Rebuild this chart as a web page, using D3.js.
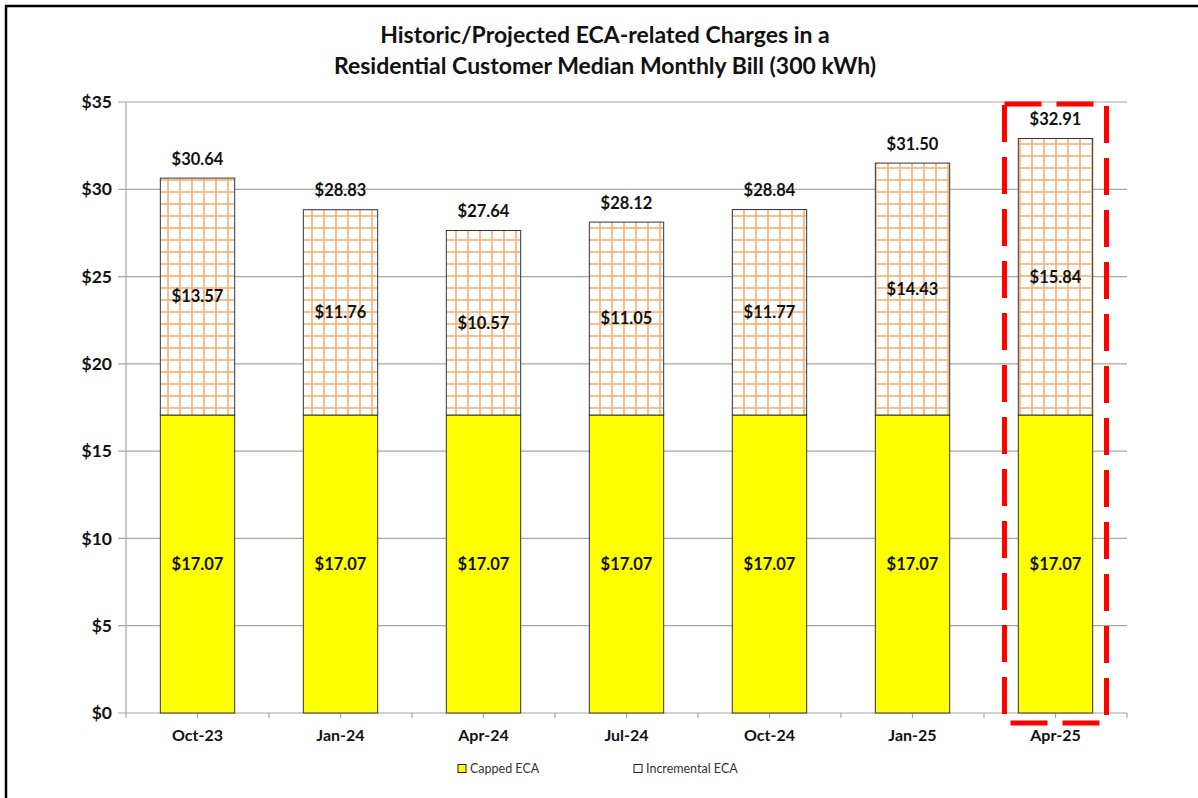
<!DOCTYPE html>
<html>
<head>
<meta charset="utf-8">
<script src="https://cdn.jsdelivr.net/npm/d3@7"></script>
<style>
  html, body { margin: 0; padding: 0; background: #fff; overflow: hidden; }
  svg { display: block; font-family: Lato, "Open Sans", "Liberation Sans", sans-serif; }
</style>
</head>
<body>
<div id="chart"></div>
<script>
// ECA charges per period: capped part is flat, incremental part sits on top.
const periods = ["Oct-23", "Jan-24", "Apr-24", "Jul-24", "Oct-24", "Jan-25", "Apr-25"];
const cappedECA = [17.07, 17.07, 17.07, 17.07, 17.07, 17.07, 17.07];
const incrementalECA = [13.57, 11.76, 10.57, 11.05, 11.77, 14.43, 15.84];
const totals = [30.64, 28.83, 27.64, 28.12, 28.84, 31.50, 32.91];
const yTicks = [0, 5, 10, 15, 20, 25, 30, 35];
const highlighted = "Apr-25";
const titleLines = [
  "Historic/Projected ECA-related Charges in a",
  "Residential Customer Median Monthly Bill (300 kWh)"
];
const legendItems = ["Capped ECA", "Incremental ECA"];

const width = 1198, height = 798;
const m = { top: 102, right: 71, bottom: 85, left: 126 };
const iw = width - m.left - m.right;
const ih = height - m.top - m.bottom;
const fmt = (v) => "$" + v.toFixed(2);

const svg = d3.select("#chart").append("svg")
  .attr("width", width).attr("height", height).attr("viewBox", `0 0 ${width} ${height}`);

const defs = svg.append("defs");
const pat = defs.append("pattern").attr("id", "grid")
  .attr("patternUnits", "userSpaceOnUse").attr("width", 12).attr("height", 12)
  .attr("x", 0).attr("y", 0);
pat.append("rect").attr("width", 12).attr("height", 12).attr("fill", "#fff");
pat.append("line").attr("x1", 6).attr("x2", 6).attr("y1", 0).attr("y2", 12)
  .attr("stroke", "#f7ab6a").attr("stroke-width", 1.5);
pat.append("line").attr("x1", 0).attr("x2", 12).attr("y1", 6).attr("y2", 6)
  .attr("stroke", "#f7ab6a").attr("stroke-width", 1.5);

// outer frame (cropped at right/bottom in the source)
svg.append("path").attr("d", `M6,${height + 5} V6 H${width + 5}`)
  .attr("fill", "none").attr("stroke", "#000").attr("stroke-width", 2.5);

svg.append("text").attr("text-anchor", "middle").attr("font-weight", 700)
  .attr("font-size", 23).attr("fill", "#111")
  .selectAll("tspan").data(titleLines).join("tspan")
  .attr("x", 605).attr("y", (d, i) => 43 + i * 31).text((d) => d);

const g = svg.append("g").attr("transform", `translate(${m.left},${m.top})`);

const x = d3.scaleBand().domain(periods).range([0, iw]).paddingInner(0.48).paddingOuter(0.24);
const y = d3.scaleLinear().domain([0, 35]).range([ih, 0]);

// gridlines + left ticks
g.append("g").selectAll("line").data(yTicks).join("line")
  .attr("x1", -8).attr("x2", iw).attr("y1", (d) => y(d)).attr("y2", (d) => y(d))
  .attr("stroke", "#a6a6a6").attr("stroke-width", 1.2);
g.append("line").attr("x1", 0).attr("x2", 0).attr("y1", 0).attr("y2", ih)
  .attr("stroke", "#a6a6a6").attr("stroke-width", 1.2);

g.append("g").selectAll("text").data(yTicks).join("text")
  .attr("x", -14).attr("y", (d) => y(d)).attr("dy", "0.35em").attr("text-anchor", "end")
  .attr("font-weight", 700).attr("font-size", 17.5).attr("fill", "#111")
  .text((d) => "$" + d);

// bottom axis ticks: category boundaries and centers
const step = x.step();
const tickXs = [];
periods.forEach((p, i) => {
  const c = x(p) + x.bandwidth() / 2;
  tickXs.push(c - step / 2, c);
  if (i === periods.length - 1) tickXs.push(c + step / 2);
});
g.append("g").selectAll("line").data(tickXs).join("line")
  .attr("x1", (d) => d).attr("x2", (d) => d).attr("y1", ih).attr("y2", ih + 5)
  .attr("stroke", "#a6a6a6").attr("stroke-width", 1.2);

g.append("g").selectAll("text").data(periods).join("text")
  .attr("x", (d) => x(d) + x.bandwidth() / 2).attr("y", ih + 28).attr("text-anchor", "middle")
  .attr("font-weight", 700).attr("font-size", 16).attr("fill", "#111").text((d) => d);

const rows = periods.map((p, i) => ({ p, cap: cappedECA[i], inc: incrementalECA[i], tot: totals[i] }));

// capped (yellow)
g.append("g").selectAll("rect").data(rows).join("rect")
  .attr("x", (d) => x(d.p)).attr("width", x.bandwidth())
  .attr("y", (d) => y(d.cap)).attr("height", (d) => y(0) - y(d.cap))
  .attr("fill", "#ffff00").attr("stroke", "#333").attr("stroke-width", 1);

// incremental (grid pattern)
g.append("g").selectAll("rect").data(rows).join("rect")
  .attr("x", (d) => x(d.p)).attr("width", x.bandwidth())
  .attr("y", (d) => y(d.cap + d.inc)).attr("height", (d) => y(d.cap) - y(d.cap + d.inc))
  .attr("fill", "url(#grid)").attr("stroke", "#333").attr("stroke-width", 1);

const label = (sel) => sel.attr("text-anchor", "middle").attr("dy", "0.35em")
  .attr("font-weight", 700).attr("font-size", 16.5).attr("fill", "#111");

g.append("g").selectAll("text").data(rows).join("text").call(label)
  .attr("x", (d) => x(d.p) + x.bandwidth() / 2).attr("y", (d) => y(d.cap / 2))
  .text((d) => fmt(d.cap));
g.append("g").selectAll("text").data(rows).join("text").call(label)
  .attr("x", (d) => x(d.p) + x.bandwidth() / 2).attr("y", (d) => y(d.cap + d.inc / 2))
  .text((d) => fmt(d.inc));
g.append("g").selectAll("text").data(rows).join("text").call(label)
  .attr("x", (d) => x(d.p) + x.bandwidth() / 2).attr("y", (d) => y(d.tot) - 19)
  .text((d) => fmt(d.tot));

// dashed highlight box
const hc = x(highlighted) + x.bandwidth() / 2;
g.append("rect").attr("x", hc - 51).attr("y", y(35) + 2).attr("width", 102).attr("height", ih + 8)
  .attr("fill", "none").attr("stroke", "#ff0000").attr("stroke-width", 5)
  .attr("stroke-dasharray", "37 15");

// legend
const leg = svg.append("g").attr("transform", `translate(0,769)`);
const legX = [458, 634];
legendItems.forEach((t, i) => {
  leg.append("rect").attr("x", legX[i]).attr("y", -4.5).attr("width", 8).attr("height", 8)
    .attr("fill", i === 0 ? "#ffff00" : "#fff").attr("stroke", "#222").attr("stroke-width", 1);
  leg.append("text").attr("x", legX[i] + 12).attr("y", 0).attr("dy", "0.35em")
    .attr("font-size", 12.5).attr("fill", "#333").text(t);
});
</script>
</body>
</html>
